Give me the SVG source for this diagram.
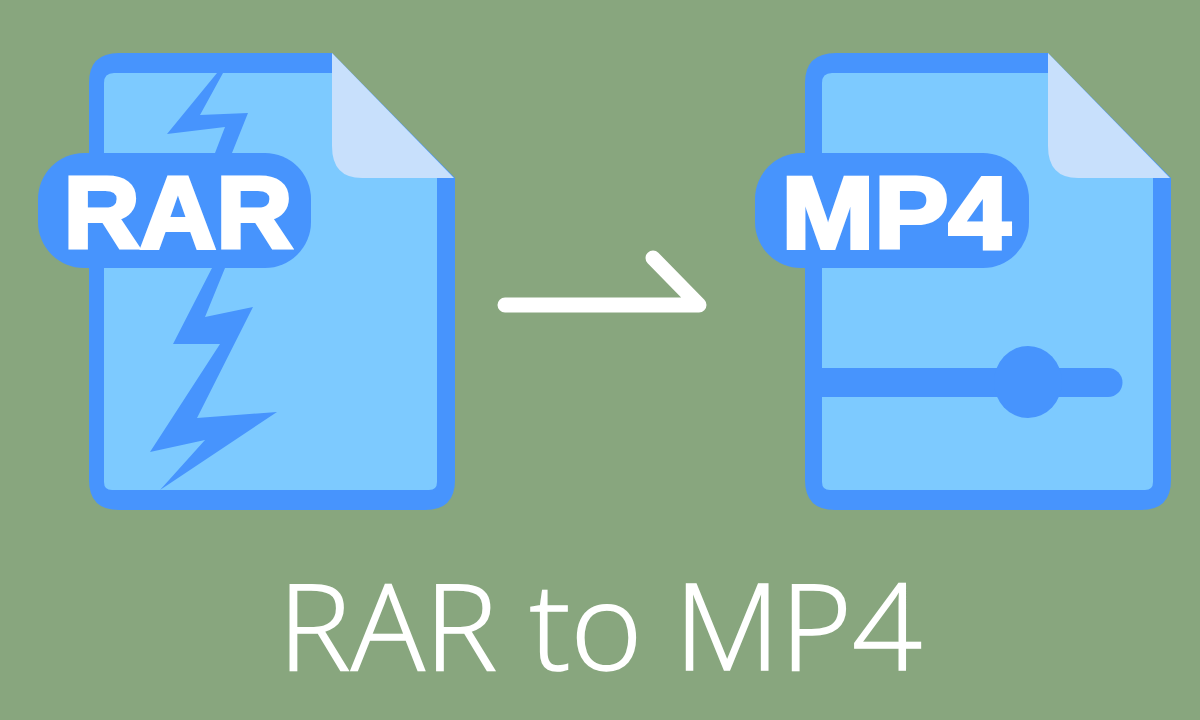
<svg xmlns="http://www.w3.org/2000/svg" width="1200" height="720" viewBox="0 0 1200 720">
<style>
.edge{fill:#4794fd}.body{fill:#7dcaff}.fold{fill:#c8e0fc}
.lbl{font-family:"Liberation Sans",Arial,sans-serif;font-weight:700;font-size:102px;font-kerning:none;fill:#fff;stroke:#fff;stroke-width:4px;text-anchor:middle}
.title{font-family:"Open Sans","Noto Sans",sans-serif;font-weight:300;font-size:120px;fill:#fff;stroke:#fff;stroke-width:1.500px;text-anchor:middle}
</style>
<rect width="1200" height="720" fill="#88a67e"/>
<g id="rar-file">
<path class="edge" d="M119 53H332L455 178V480Q455 510 425 510H119Q89 510 89 480V83Q89 53 119 53Z"/>
<path class="body" d="M114 73H332V146L362 178H437V482Q437 490 429 490H112Q104 490 104 482V83Q104 73 114 73Z"/>
<path class="fold" d="M332 53L454 178H362Q332 178 332 146Z"/>
<path class="edge" d="M217 73H223L200 115L248 113L232 153H215L225 127L167 134Z"/>
<path class="edge" d="M212 268H225L205 317L253 307L197 418L277 412L160 490L205 440L150 452L220 344H173Z"/>
<rect class="edge" x="38" y="153" width="273" height="115" rx="46"/>
<text class="lbl" x="178" y="248" textLength="229" lengthAdjust="spacingAndGlyphs">RAR</text>
</g>
<g id="mp4-file">
<path class="edge" d="M836 53H1048L1171 178V480Q1171 510 1141 510H835Q805 510 805 480V83Q805 53 836 53Z"/>
<path class="body" d="M832 73H1048V146L1078 178H1153V482Q1153 490 1145 490H830Q822 490 822 482V83Q822 73 832 73Z"/>
<path class="fold" d="M1048 53L1170 178H1078Q1048 178 1048 146Z"/>
<path class="edge" d="M815 368H1108A14.500 14.500 0 0 1 1108 397H815Z"/>
<ellipse class="edge" cx="1028" cy="382" rx="34" ry="36"/>
<rect class="edge" x="755" y="153" width="274" height="115" rx="46"/>
<text class="lbl" x="896" y="248" textLength="229" lengthAdjust="spacingAndGlyphs">MP4</text>
</g>
<g id="connectors">
<path d="M505 305H699L653 258" fill="none" stroke="#fff" stroke-width="15" stroke-linecap="round" stroke-linejoin="round"/>
</g>
<text class="title" x="600" y="670" textLength="644" lengthAdjust="spacingAndGlyphs">RAR to MP4</text>
</svg>
